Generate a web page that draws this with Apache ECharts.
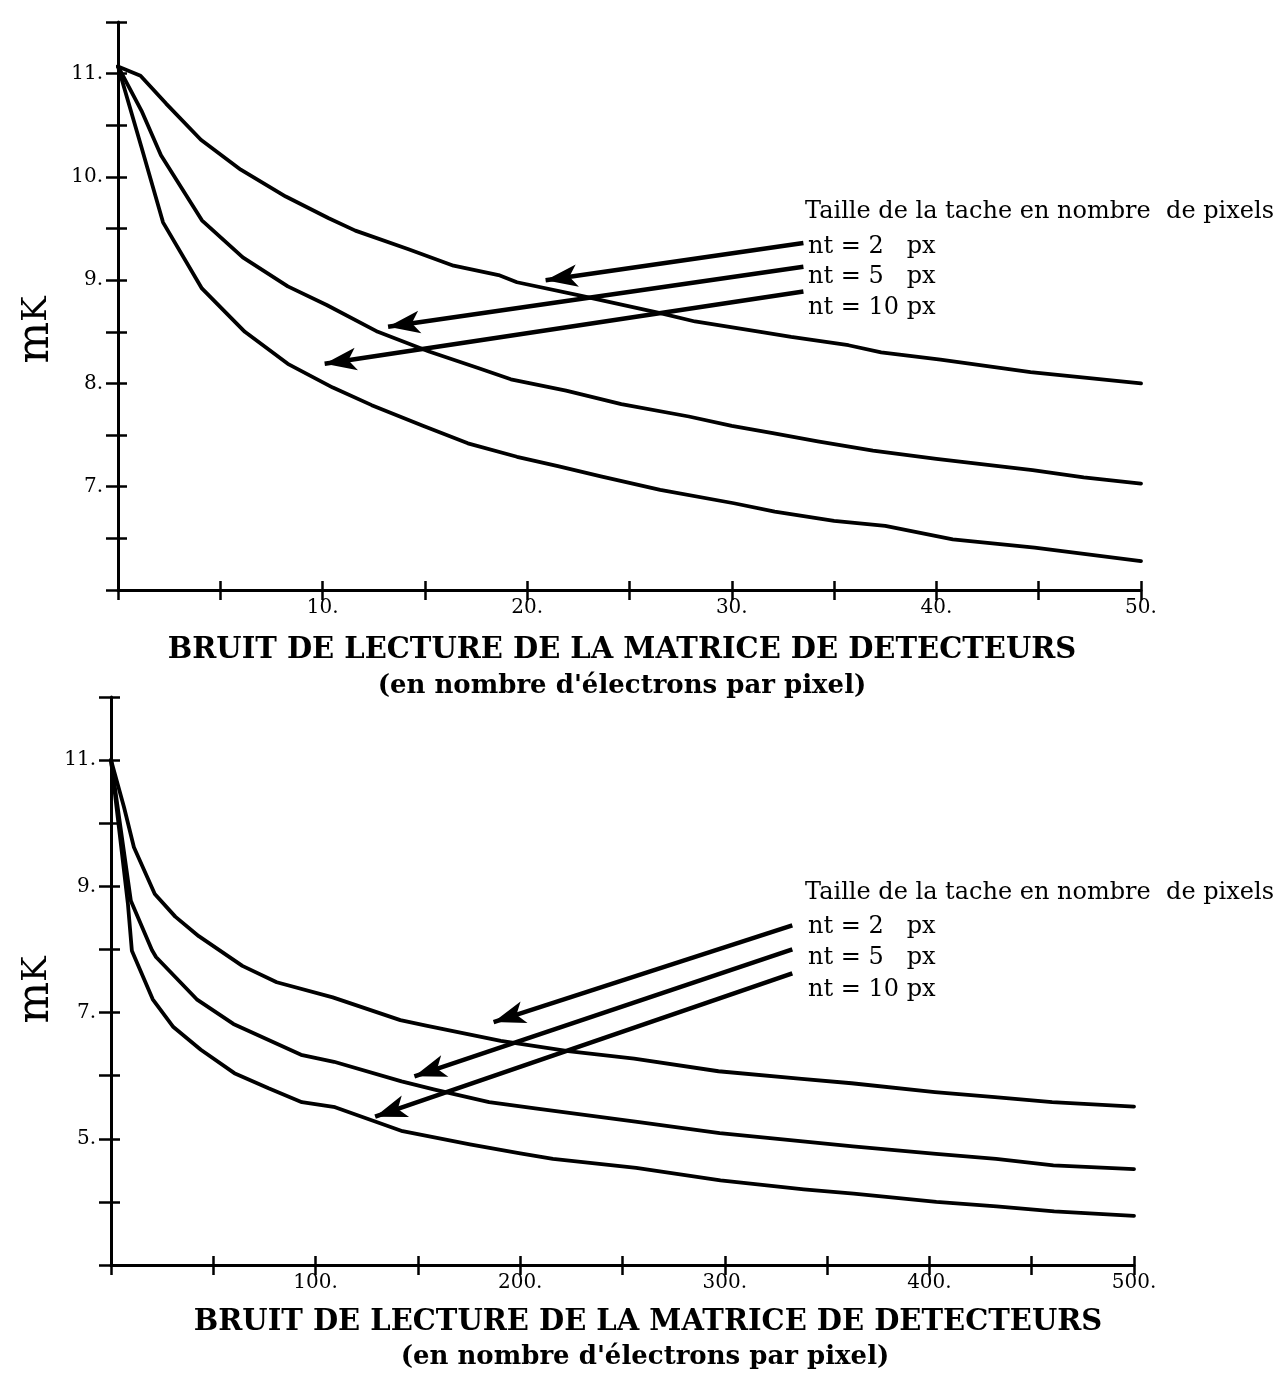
<!DOCTYPE html>
<html><head><meta charset="utf-8">
<script src="https://cdn.jsdelivr.net/npm/echarts@6/dist/echarts.min.js"></script>
<style>html,body{margin:0;padding:0;background:#fff}#c{width:1277px;height:1384px}</style>
</head><body><div id="c"></div>
<script>
// ---------- DATA ----------
const seriesNames = ['nt = 2   px', 'nt = 5   px', 'nt = 10 px'];
const legendTitle = 'Taille de la tache en nombre  de pixels';
const xTitle = 'BRUIT DE LECTURE DE LA MATRICE DE DETECTEURS';
const xSubTitle = "(en nombre d'électrons par pixel)";
const yTitle = ['m', 'K'];

// top chart (bruit 0..50)
const topX_nt2 = [0, 1.1, 2.35, 4.05, 6.0, 8.2, 10.3, 11.6, 14.2, 16.4, 18.6, 19.5, 22.6, 26.5, 28.2, 31.4, 32.9, 35.7, 37.3, 40.2, 44.6, 50];
const topY_nt2 = [11.07, 10.98, 10.71, 10.36, 10.07, 9.81, 9.60, 9.48, 9.30, 9.14, 9.05, 8.98, 8.85, 8.68, 8.60, 8.50, 8.45, 8.37, 8.30, 8.23, 8.11, 8.00];
const topX_nt5 = [0, 1.15, 2.1, 4.1, 6.1, 8.3, 10.2, 12.7, 15.2, 17.6, 19.2, 21.9, 24.6, 27.9, 30, 32, 34.2, 36.9, 40, 44.7, 47.2, 50];
const topY_nt5 = [11.07, 10.64, 10.21, 9.58, 9.22, 8.94, 8.76, 8.50, 8.31, 8.15, 8.04, 7.93, 7.80, 7.68, 7.59, 7.52, 7.44, 7.35, 7.27, 7.16, 7.09, 7.03];
const topX_nt10 = [0, 1.13, 2.2, 4.1, 6.2, 8.3, 10.5, 12.4, 14.9, 17.1, 19.5, 21.5, 23.6, 26.5, 30.1, 32.1, 35, 37.5, 40.8, 44.8, 50];
const topY_nt10 = [11.07, 10.30, 9.56, 8.92, 8.50, 8.19, 7.96, 7.79, 7.59, 7.42, 7.29, 7.20, 7.10, 6.97, 6.84, 6.76, 6.67, 6.62, 6.49, 6.41, 6.28];

// bottom chart (bruit 0..500)
const botX_nt2 = [0, 6.4, 11.2, 21.4, 31.4, 42.9, 64.2, 81, 108.4, 141.4, 154.6, 190.5, 223.4, 255.7, 296.9, 337.6, 362, 402.7, 432, 460, 500];
const botY_nt2 = [11.0, 10.25, 9.62, 8.88, 8.52, 8.21, 7.74, 7.48, 7.24, 6.88, 6.79, 6.55, 6.39, 6.27, 6.07, 5.95, 5.88, 5.74, 5.66, 5.58, 5.51];
const botX_nt5 = [0, 9.7, 20, 22, 41.9, 59.8, 92.9, 109, 142, 158.2, 184.8, 207.3, 256.3, 297.5, 338.1, 362.6, 403.3, 432.6, 460.6, 500];
const botY_nt5 = [11.0, 8.77, 7.99, 7.88, 7.21, 6.82, 6.33, 6.22, 5.91, 5.78, 5.58, 5.48, 5.27, 5.09, 4.96, 4.88, 4.76, 4.68, 4.58, 4.52];
const botX_nt10 = [0, 8.3, 10.2, 20.4, 30.5, 43.9, 60.3, 77, 93.3, 109.5, 142.5, 175.4, 200, 216, 256.7, 297.9, 338.6, 363, 403.4, 432.8, 461, 500];
const botY_nt10 = [11.0, 8.71, 7.98, 7.21, 6.77, 6.41, 6.04, 5.80, 5.58, 5.50, 5.12, 4.91, 4.77, 4.68, 4.54, 4.34, 4.20, 4.13, 4.00, 3.93, 3.85, 3.78];

// tick labels
const topXLabels = [10, 20, 30, 40, 50];
const topYLabels = [7, 8, 9, 10, 11];
const botXLabels = [100, 200, 300, 400, 500];
const botYLabels = [5, 7, 9, 11];

// arrows [fromX, fromY, toX, toY] (data units)
const topArrows = [[33.5, 9.36, 20.9, 9.00], [33.5, 9.13, 13.2, 8.55], [33.5, 8.89, 10.1, 8.19]];
const botArrows = [[333, 8.38, 187, 6.85], [333, 8.0, 148.3, 5.99], [333, 7.62, 129.1, 5.35]];

// ---------- CHART ----------
const SERIF = '"DejaVu Serif", "Liberation Serif", serif';
const chart = echarts.init(document.getElementById('c'), null, {renderer: 'canvas'});

function pairs(xs, ys) { return xs.map((x, i) => [x, ys[i]]); }
const lineStyle = {color: '#000', width: 3.8, join: 'round', cap: 'round'};

function axisPair(gridIndex, min, max, interval, labels, isX) {
  const main = {
    type: 'value', gridIndex, min, max, interval,
    position: isX ? 'bottom' : 'left',
    axisLine: {show: true, onZero: false, lineStyle: {color: '#000', width: 3}},
    axisTick: {show: true, inside: false, length: isX ? 10 : 12, lineStyle: {color: '#000', width: 2.5}},
    axisLabel: {
      show: true, color: '#000', fontFamily: SERIF, fontSize: 20, margin: isX ? 8 : 15,
      formatter: v => labels.some(l => Math.abs(l - v) < 1e-9) ? (v + '.') : ''
    },
    splitLine: {show: false}
  };
  const inner = {
    type: 'value', gridIndex, min, max, interval,
    position: isX ? 'bottom' : 'left',
    axisLine: {show: false, onZero: false},
    axisTick: {show: true, inside: true, length: 9, lineStyle: {color: '#000', width: 2.5}},
    axisLabel: {show: false},
    splitLine: {show: false}
  };
  return [main, inner];
}

function arrowLines(arr) {
  return arr.map(a => [
    {coord: [a[0], a[1]], symbol: 'none'},
    {coord: [a[2], a[3]], symbol: 'arrow', symbolSize: [17, 32]}
  ]);
}

const markLineCfg = arr => ({
  silent: true, animation: false,
  symbol: ['none', 'arrow'],
  lineStyle: {color: '#000', width: 4.5, type: 'solid'},
  itemStyle: {color: '#000'},
  label: {show: false},
  emphasis: {disabled: true},
  data: arrowLines(arr)
});

const xAxes = [...axisPair(0, 0, 50, 5, topXLabels, true), ...axisPair(1, 0, 500, 50, botXLabels, true)];
const yAxes = [...axisPair(0, 6, 11.5, 0.5, topYLabels, false), ...axisPair(1, 3, 12, 1, botYLabels, false)];

const topSets = [[topX_nt2, topY_nt2], [topX_nt5, topY_nt5], [topX_nt10, topY_nt10]];
const botSets = [[botX_nt2, botY_nt2], [botX_nt5, botY_nt5], [botX_nt10, botY_nt10]];

const series = [];
topSets.forEach((s, i) => series.push({
  type: 'line', name: seriesNames[i], xAxisIndex: 0, yAxisIndex: 0,
  data: pairs(s[0], s[1]), showSymbol: false, symbol: 'none', smooth: false,
  lineStyle, itemStyle: {color: '#000'}, emphasis: {disabled: true}, silent: true,
  markLine: i === 0 ? markLineCfg(topArrows) : undefined
}));
botSets.forEach((s, i) => series.push({
  type: 'line', name: seriesNames[i], xAxisIndex: 2, yAxisIndex: 2,
  data: pairs(s[0], s[1]), showSymbol: false, symbol: 'none', smooth: false,
  lineStyle, itemStyle: {color: '#000'}, emphasis: {disabled: true}, silent: true,
  markLine: i === 0 ? markLineCfg(botArrows) : undefined
}));

function txt(x, y, text, size, weight, align) {
  return {type: 'text', x, y, silent: true,
    style: {text, fill: '#000', fontSize: size, fontWeight: weight || 'normal', fontFamily: SERIF,
      align: align || 'left', verticalAlign: 'middle'}};
}
function yTitleEl(x, y) {
  return {type: 'text', x, y, rotation: Math.PI / 2, silent: true,
    style: {text: '{m|' + yTitle[0] + '}{k|' + yTitle[1] + '}', fill: '#000', align: 'center', verticalAlign: 'middle',
      rich: {m: {fontSize: 44, fontFamily: SERIF, fill: '#000'}, k: {fontSize: 34, fontFamily: SERIF, fill: '#000'}}}};
}

const graphics = [
  yTitleEl(37, 330), yTitleEl(37, 990),
  txt(622, 650, xTitle, 29, 'bold', 'center'),
  txt(622, 686, xSubTitle, 26, 'bold', 'center'),
  txt(648, 1322, xTitle, 29, 'bold', 'center'),
  txt(645, 1357, xSubTitle, 26, 'bold', 'center'),
  txt(805, 212, legendTitle, 24),
  txt(808, 247, seriesNames[0], 24),
  txt(808, 277, seriesNames[1], 24),
  txt(808, 308, seriesNames[2], 24),
  txt(805, 893, legendTitle, 24),
  txt(808, 927, seriesNames[0], 24),
  txt(808, 958, seriesNames[1], 24),
  txt(808, 990, seriesNames[2], 24)
];

chart.setOption({
  animation: false,
  backgroundColor: '#fff',
  grid: [
    {left: 118, top: 22, width: 1023, height: 568},
    {left: 111, top: 697, width: 1023, height: 568}
  ],
  xAxis: xAxes,
  yAxis: yAxes,
  series,
  graphic: graphics
});
</script></body></html>
